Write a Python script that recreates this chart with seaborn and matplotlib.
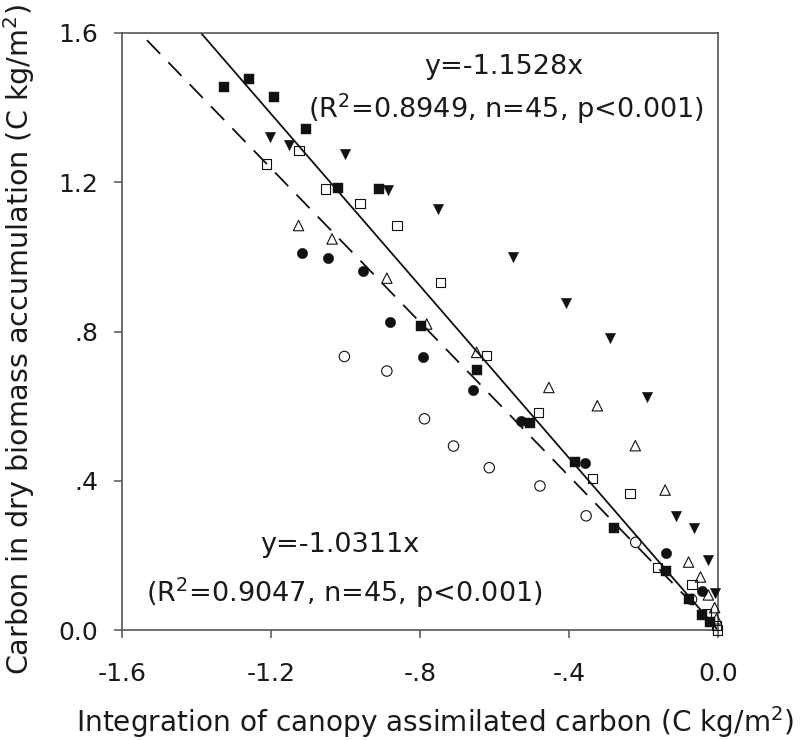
import numpy as np
import pandas as pd
import matplotlib
matplotlib.use("Agg")
import matplotlib.pyplot as plt
import seaborn as sns

# ---------------- data ----------------
fsq_x = [-1.325, -1.258, -1.191, -1.107, -1.019, -0.911, -0.797, -0.648, -0.505,
         -0.384, -0.278, -0.140, -0.078, -0.044, -0.022]
fsq_y = [1.456, 1.476, 1.429, 1.342, 1.185, 1.181, 0.815, 0.697, 0.554,
         0.451, 0.273, 0.159, 0.083, 0.040, 0.021]

osq_x = [-1.212, -1.125, -1.053, -0.961, -0.862, -0.744, -0.621, -0.481, -0.336,
         -0.236, -0.162, -0.070, -0.030, -0.003, -0.001]
osq_y = [1.249, 1.285, 1.182, 1.144, 1.085, 0.931, 0.735, 0.582, 0.407,
         0.365, 0.167, 0.121, 0.044, 0.012, 0.000]

ftri_x = [-1.203, -1.152, -1.001, -0.885, -0.752, -0.551, -0.408, -0.290, -0.191,
          -0.114, -0.064, -0.028, -0.008]
ftri_y = [1.321, 1.301, 1.276, 1.179, 1.128, 1.000, 0.877, 0.783, 0.625,
          0.306, 0.273, 0.188, 0.098]

otri_x = [-1.126, -1.036, -0.889, -0.782, -0.648, -0.454, -0.324, -0.222, -0.142,
          -0.079, -0.047, -0.026, -0.009, -0.004]
otri_y = [1.084, 1.048, 0.943, 0.820, 0.744, 0.650, 0.601, 0.494, 0.375,
          0.182, 0.142, 0.094, 0.060, 0.030]

fcir_x = [-1.118, -1.047, -0.952, -0.881, -0.791, -0.657, -0.530, -0.357, -0.140, -0.043]
fcir_y = [1.010, 0.998, 0.962, 0.826, 0.732, 0.643, 0.561, 0.448, 0.206, 0.105]

ocir_x = [-1.003, -0.889, -0.788, -0.710, -0.614, -0.478, -0.354, -0.221, -0.071]
ocir_y = [0.733, 0.694, 0.566, 0.493, 0.435, 0.386, 0.306, 0.235, 0.082]

slope_solid = -1.1528
slope_dashed = -1.0311
solid_x = [-1.388, 0.0]
dashed_x = [-1.533, 0.0]

xticks = [-1.6, -1.2, -0.8, -0.4, 0.0]
xticklabels = ["-1.6", "-1.2", "-.8", "-.4", "0.0"]
yticks = [0.0, 0.4, 0.8, 1.2, 1.6]
yticklabels = ["0.0", ".4", ".8", "1.2", "1.6"]

# ---------------- style ----------------
sns.set_style("ticks")
plt.rcParams['font.family'] = ['DejaVu Sans']
plt.rcParams['mathtext.fontset'] = 'dejavusans'

fig = plt.figure(figsize=(8.0, 7.4), dpi=100)
ax = fig.add_axes([122/800, 110/740, 596/800, 597/740])

spine_col = "#555555"
txt_col = "#1a1a1a"

lines = pd.DataFrame({
    "x": solid_x + dashed_x,
    "y": [slope_solid * v for v in solid_x] + [slope_dashed * v for v in dashed_x],
    "fit": ["solid"] * 2 + ["dashed"] * 2,
})
sns.lineplot(data=lines[lines.fit == "solid"], x="x", y="y", ax=ax, color="#111111",
             lw=1.3, legend=False, zorder=2)
sns.lineplot(data=lines[lines.fit == "dashed"], x="x", y="y", ax=ax, color="#111111",
             lw=1.3, legend=False, zorder=2, linestyle=(0, (10.5, 6.5)))

series = [
    (fsq_x, fsq_y, "s", True, 44),
    (osq_x, osq_y, "s", False, 44),
    (ftri_x, ftri_y, "v", True, 56),
    (otri_x, otri_y, "^", False, 56),
    (fcir_x, fcir_y, "o", True, 56),
    (ocir_x, ocir_y, "o", False, 56),
]
for xs, ys, mk, filled, sz in series:
    df = pd.DataFrame({"x": xs, "y": ys})
    sns.scatterplot(data=df, x="x", y="y", ax=ax, marker=mk, s=sz,
                    facecolor="#111111" if filled else "none",
                    edgecolor="#111111", linewidth=0.8 if not filled else 0.3,
                    clip_on=False, zorder=3, legend=False)

ax.set_xlim(-1.6, 0.0)
ax.set_ylim(0.0, 1.6)
ax.set_xticks(xticks)
ax.set_xticklabels(xticklabels)
ax.set_yticks(yticks)
ax.set_yticklabels(yticklabels)

for sp in ax.spines.values():
    sp.set_visible(True)
    sp.set_color(spine_col)
    sp.set_linewidth(1.2)

ax.tick_params(axis="both", direction="out", length=6, width=1.1, color=spine_col,
               labelsize=18, labelcolor=txt_col)
ax.tick_params(axis="y", pad=11)
ax.tick_params(axis="x", pad=17)

ax.set_xlabel("Integration of canopy assimilated carbon (C kg/m$^2$)",
              fontsize=20.2, color=txt_col)
ax.set_ylabel("Carbon in dry biomass accumulation (C kg/m$^2$)",
              fontsize=20.6, color=txt_col)
ax.xaxis.set_label_coords(0.525, -0.124)
ax.yaxis.set_label_coords(-0.172, 0.487)
ax.xaxis.label.set_va("top")
ax.yaxis.label.set_va("center")

ax.text(0.64, 0.931, "y=-1.1528x", transform=ax.transAxes, ha="center",
        va="baseline", fontsize=19.5, color=txt_col)
ax.text(0.645, 0.8576, "(R$^2$=0.8949, n=45, p<0.001)", transform=ax.transAxes,
        ha="center", va="baseline", fontsize=19.5, color=txt_col)
ax.text(0.366, 0.1307, "y=-1.0311x", transform=ax.transAxes, ha="center",
        va="baseline", fontsize=19.5, color=txt_col)
ax.text(0.374, 0.0469, "(R$^2$=0.9047, n=45, p<0.001)", transform=ax.transAxes,
        ha="center", va="baseline", fontsize=19.5, color=txt_col)

fig.savefig("out.png", dpi=100)
